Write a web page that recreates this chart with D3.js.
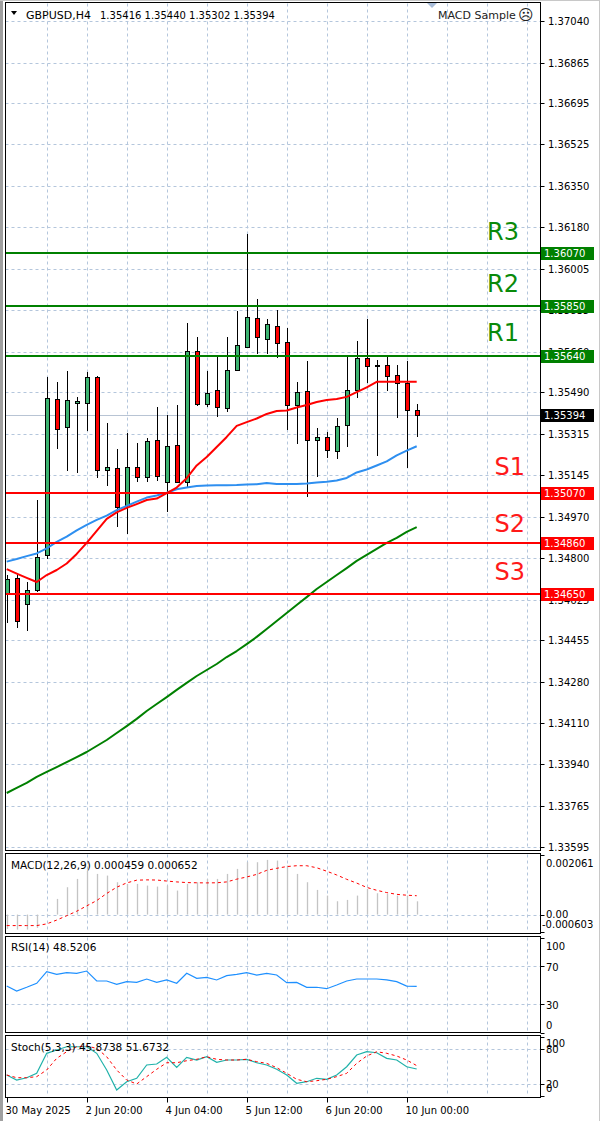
<!DOCTYPE html>
<html><head><meta charset="utf-8">
<script src="https://cdn.jsdelivr.net/npm/d3@7"></script>
<style>body{margin:0;background:#fff}svg{display:block}text{font-family:"DejaVu Sans",sans-serif}</style>
</head><body><svg id="c" width="600" height="1121"></svg>
<script>
// ---------- DATA ----------
const symbolTitle = "GBPUSD,H4";
const ohlcTitle = "1.35416 1.35440 1.35302 1.35394";
const expertName = "MACD Sample";
const opens  = [1.34652,1.34716,1.34606,1.34666,1.34812,1.35462,1.35344,1.35447,1.35444,1.35553,1.35166,1.35176,1.35020,1.35180,1.35138,1.35291,1.35117,1.35270,1.35117,1.35662,1.35441,1.35500,1.35423,1.35583,1.35680,1.35799,1.35712,1.35767,1.35699,1.35437,1.35496,1.35291,1.35305,1.35245,1.35354,1.35500,1.35632,1.35605,1.35604,1.35562,1.35528,1.35416];
const highs  = [1.34728,1.34738,1.34700,1.35041,1.35555,1.35532,1.35580,1.35469,1.35574,1.35559,1.35361,1.35254,1.35319,1.35277,1.35298,1.35428,1.35395,1.35437,1.35778,1.35722,1.35579,1.35639,1.35722,1.35830,1.36150,1.35878,1.35795,1.35833,1.35757,1.35534,1.35622,1.35340,1.35326,1.35382,1.35639,1.35705,1.35795,1.35625,1.35636,1.35604,1.35621,1.35440];
const lows   = [1.34528,1.34507,1.34495,1.34659,1.34794,1.35254,1.35163,1.35152,1.35330,1.35134,1.35101,1.34930,1.34898,1.35117,1.35117,1.35121,1.34992,1.35111,1.35096,1.35435,1.35430,1.35388,1.35409,1.35580,1.35676,1.35649,1.35649,1.35634,1.35333,1.35275,1.35055,1.35138,1.35217,1.35212,1.35263,1.35465,1.35530,1.35226,1.35497,1.35384,1.35173,1.35302];
const closes = [1.34710,1.34536,1.34666,1.34804,1.35468,1.35337,1.35458,1.35455,1.35553,1.35166,1.35177,1.35013,1.35180,1.35138,1.35287,1.35141,1.35266,1.35117,1.35662,1.35441,1.35489,1.35430,1.35583,1.35687,1.35803,1.35720,1.35774,1.35697,1.35437,1.35490,1.35291,1.35303,1.35250,1.35350,1.35500,1.35632,1.35600,1.35603,1.35558,1.35528,1.35416,1.35394];
const maRed   = [1.34753,1.34734,1.34716,1.34699,1.34728,1.34749,1.34776,1.34816,1.34862,1.34912,1.34962,1.34989,1.35008,1.35024,1.35041,1.35047,1.35070,1.35093,1.35132,1.35185,1.35220,1.35262,1.35304,1.35350,1.35366,1.35381,1.35400,1.35412,1.35414,1.35427,1.35437,1.35450,1.35458,1.35462,1.35471,1.35491,1.35511,1.35534,1.35534,1.35534,1.35534,1.35534];
const maBlue  = [1.34784,1.34795,1.34807,1.34818,1.34839,1.34866,1.34888,1.34914,1.34937,1.34958,1.34976,1.34999,1.35016,1.35034,1.35051,1.35060,1.35071,1.35086,1.35093,1.35099,1.35101,1.35102,1.35103,1.35104,1.35106,1.35107,1.35112,1.35108,1.35108,1.35108,1.35110,1.35114,1.35117,1.35122,1.35133,1.35156,1.35168,1.35185,1.35202,1.35227,1.35247,1.35265];
const maGreen = [1.33819,1.33840,1.33861,1.33886,1.33907,1.33927,1.33948,1.33969,1.33990,1.34015,1.34040,1.34069,1.34098,1.34128,1.34161,1.34190,1.34219,1.34249,1.34278,1.34307,1.34332,1.34357,1.34386,1.34411,1.34440,1.34470,1.34503,1.34536,1.34570,1.34603,1.34636,1.34670,1.34699,1.34728,1.34757,1.34787,1.34812,1.34837,1.34862,1.34883,1.34908,1.34928];
const priceTicks = [1.37040,1.36865,1.36695,1.36525,1.36350,1.36180,1.36005,1.35835,1.35660,1.35490,1.35315,1.35145,1.34970,1.34800,1.34625,1.34455,1.34280,1.34110,1.33940,1.33765,1.33595];
const priceMin = 1.33595, priceMax = 1.37040;
const lastPrice = 1.35394;
const levelNames  = ["R3","R2","R1","S1","S2","S3"];
const levelValues = [1.36070,1.35850,1.35640,1.35070,1.34860,1.34650];
const levelTextPrices = [1.36125,1.35909,1.35704,1.35145,1.34909,1.34707];
const macdTitle = "MACD(12,26,9) 0.000459 0.000652";
const macdHist = [-0.000496,-0.000519,-0.000519,-0.000461,0.000023,0.000542,0.000946,0.001234,0.001522,0.001407,0.001349,0.001119,0.001061,0.001061,0.001003,0.000969,0.001003,0.000830,0.001061,0.001119,0.001234,0.001234,0.001407,0.001580,0.001811,0.001811,0.001891,0.001868,0.001695,0.001407,0.001119,0.000853,0.000657,0.000461,0.000507,0.000657,0.000888,0.000738,0.000715,0.000657,0.000657,0.000459];
const macdSignal = [-0.000381,-0.000381,-0.000381,-0.000381,-0.000323,-0.000190,-0.000040,0.000115,0.000300,0.000484,0.000730,0.000946,0.001096,0.001190,0.001200,0.001195,0.001160,0.001130,0.001107,0.001100,0.001096,0.001100,0.001130,0.001225,0.001300,0.001390,0.001530,0.001600,0.001661,0.001690,0.001690,0.001620,0.001500,0.001370,0.001220,0.001090,0.000940,0.000840,0.000760,0.000700,0.000670,0.000652];
const macdTicks = [0.002061, 0.00, -0.000603];
const macdTickLabels = ["0.002061","0.00","-0.000603"];
const rsiTitle = "RSI(14) 48.5206";
const rsiValues = [48.9,43.7,47.6,51.8,64.0,61.2,63.0,62.3,64.7,54.2,54.2,50.7,53.5,52.8,56.3,52.8,55.3,51.8,62.3,57.0,58.1,55.3,59.8,61.2,63.0,60.5,62.3,60.5,52.5,52.8,47.6,47.6,46.1,50.0,54.2,56.3,56.3,56.3,55.3,53.5,48.9,48.5206];
const rsiTicks = [100,70,30,0];
const stochTitle = "Stoch(5,3,3) 45.8738 51.6732";
const stochMain = [35.7,27.2,31.1,38.6,72.6,78.2,83.8,83.8,83.8,72.6,44.2,10.2,24.3,30.1,52.7,54.4,65.8,48.8,65.8,61.2,66.8,57.3,61.2,61.2,62.4,56.6,52.7,45.4,35.7,21.6,24.3,30.1,28.4,35.7,49.8,69.7,75.3,73.6,64.1,61.2,49.8,45.8738];
const stochSignal = [35.7,31.1,31.1,32.9,44.2,64.1,75.3,83.8,85.0,81.0,66.8,44.2,27.2,20.4,32.9,45.4,56.6,56.6,60.0,62.4,66.8,62.4,61.2,61.2,62.4,58.4,55.5,48.2,38.6,28.4,24.3,26.0,28.4,32.9,38.6,55.5,68.0,75.3,72.6,68.0,61.2,51.6732];
const stochTicks = [100,80,20,0];
const timeLabels = ["30 May 2025","2 Jun 20:00","4 Jun 04:00","5 Jun 12:00","6 Jun 20:00","10 Jun 00:00"];
const timeLabelIndex = [0,8,16,24,32,40];

// ---------- LAYOUT ----------
const svg = d3.select("#c");
const PL = 5.5, PR = 540.5;
const bullFill = "#3cb371", bearFill = "#ff0000";
const gridCol = "#b4c6dc";
const x = d3.scaleLinear().domain([0, 41]).range([6.7, 416.7]);
const cx = i => Math.round(x(i));
const yP = d3.scaleLinear().domain([priceMin, priceMax]).range([846.7, 20.7]);
const panels = {
  main: {top: 2.5, bottom: 850.5},
  macd: {top: 853.5, bottom: 933.5},
  rsi: {top: 936.5, bottom: 1032.5},
  stoch: {top: 1035.5, bottom: 1097.5}
};
const yM = d3.scaleLinear().domain([-0.000603, 0.002061]).range([932, 855]);
const yR = d3.scaleLinear().domain([0, 100]).range([1032.5, 937.5]);
const yS = d3.scaleLinear().domain([0, 100]).range([1096, 1037.2]);

// window border
svg.append("rect").attr("x",0).attr("y",0).attr("width",600).attr("height",1121).attr("fill","#fff");
svg.append("rect").attr("x",0).attr("y",0).attr("width",3).attr("height",1121).attr("fill","#a0a0a0");
svg.append("line").attr("x1",0).attr("x2",600).attr("y1",0.5).attr("y2",0.5).attr("stroke","#c8c8c8");
svg.append("line").attr("x1",599.5).attr("x2",599.5).attr("y1",0).attr("y2",1121).attr("stroke","#c8c8c8");

const defs = svg.append("defs");
Object.entries(panels).forEach(([k,p]) => {
  defs.append("clipPath").attr("id","clip-"+k).append("rect")
    .attr("x",PL+0.5).attr("y",p.top+0.5).attr("width",PR-PL-1).attr("height",p.bottom-p.top-1);
});

// vertical grid in all panels
const vgrid = d3.range(4, 54, 4).map(i => cx(i) + 0.5).filter(v => v < PR - 2);
Object.values(panels).forEach(p => {
  svg.append("g").selectAll("line").data(vgrid).join("line")
    .attr("x1",d=>d).attr("x2",d=>d).attr("y1",p.top+1).attr("y2",p.bottom-1)
    .attr("stroke",gridCol).attr("stroke-dasharray","3,3");
});

// ---------- MAIN PANEL ----------
const gMain = svg.append("g").attr("clip-path","url(#clip-main)");
gMain.append("g").selectAll("line").data(priceTicks).join("line")
  .attr("x1",PL).attr("x2",PR).attr("y1",d=>Math.round(yP(d))+0.5).attr("y2",d=>Math.round(yP(d))+0.5)
  .attr("stroke",gridCol).attr("stroke-dasharray","3,3");
// last price line
gMain.append("line").attr("x1",PL).attr("x2",PR)
  .attr("y1",Math.round(yP(lastPrice))+0.5).attr("y2",Math.round(yP(lastPrice))+0.5)
  .attr("stroke","#b8c4d4").attr("stroke-width",1);

// candles
const idx = d3.range(opens.length);
const cg = gMain.append("g");
cg.selectAll("line.w").data(idx).join("line").attr("class","w")
  .attr("x1",i=>cx(i)+0.5).attr("x2",i=>cx(i)+0.5)
  .attr("y1",i=>Math.round(yP(highs[i]))).attr("y2",i=>Math.round(yP(lows[i])))
  .attr("stroke","#000").attr("stroke-width",1);
cg.selectAll("rect").data(idx).join("rect")
  .attr("x",i=>cx(i)-1.5).attr("width",4)
  .attr("y",i=>Math.round(yP(Math.max(opens[i],closes[i])))+0.5)
  .attr("height",i=>Math.max(1, Math.round(yP(Math.min(opens[i],closes[i]))) - Math.round(yP(Math.max(opens[i],closes[i])))))
  .attr("fill",i=>closes[i]>=opens[i]?bullFill:bearFill)
  .attr("stroke","#000").attr("stroke-width",1);

// moving averages
const maLine = d3.line().x((d,i)=>x(i)).y(d=>yP(d));
[[maGreen,"#008000"],[maBlue,"#2e8ff0"],[maRed,"#ff0000"]].forEach(([arr,col]) => {
  gMain.append("path").datum(arr).attr("d",maLine).attr("fill","none")
    .attr("stroke",col).attr("stroke-width",2).attr("stroke-linejoin","round");
});

// levels
levelValues.forEach((v,k) => {
  const col = k < 3 ? "#008000" : "#ff0000";
  const yy = Math.round(yP(v));
  gMain.append("line").attr("x1",PL).attr("x2",PR).attr("y1",yy).attr("y2",yy)
    .attr("stroke",col).attr("stroke-width",2);
  svg.append("text").attr("x", k < 3 ? 519 : 525).attr("y", yP(levelTextPrices[k]))
    .attr("text-anchor","end").attr("font-family","'Liberation Sans',Arial,sans-serif")
    .attr("font-size",24).attr("fill", k < 3 ? "#0a8a0a" : "#ff1a1a").text(levelNames[k]);
});

// header
svg.append("path").attr("d","M11,11 L17,11 L14,15 Z").attr("fill","#000");
svg.append("text").attr("x",26).attr("y",19).attr("font-size",11).attr("fill","#000").text(symbolTitle);
svg.append("text").attr("x",100).attr("y",19).attr("font-size",10).attr("fill","#000").text(ohlcTitle);
svg.append("path").attr("d","M427,3 L437,3 L432,8 Z").attr("fill","#a8bcd8");
svg.append("text").attr("x",438).attr("y",19).attr("font-size",11).attr("fill","#222").text(expertName);
svg.append("text").attr("x",518).attr("y",20).attr("font-size",15).attr("fill","#222").text("\u2639");

// price axis
const axG = svg.append("g");
priceTicks.forEach(t => {
  const yy = Math.round(yP(t))+0.5;
  axG.append("line").attr("x1",PR).attr("x2",PR+4).attr("y1",yy).attr("y2",yy).attr("stroke","#000");
  axG.append("text").attr("x",548).attr("y",yy).attr("dy","0.36em").attr("font-size",10).attr("fill","#000").text(t.toFixed(5));
});
levelValues.forEach((v,k) => {
  const yy = Math.round(yP(v));
  axG.append("rect").attr("x",541).attr("y",yy-6).attr("width",53).attr("height",13)
    .attr("fill", k<3 ? "#008000" : "#ff0000");
  axG.append("text").attr("x",544).attr("y",yy+0.5).attr("dy","0.36em").attr("font-size",10)
    .attr("fill","#fff").text(v.toFixed(5));
});
{
  const yy = Math.round(yP(lastPrice));
  axG.append("rect").attr("x",541).attr("y",yy-6).attr("width",53).attr("height",13).attr("fill","#000");
  axG.append("text").attr("x",544).attr("y",yy+0.5).attr("dy","0.36em").attr("font-size",10)
    .attr("fill","#fff").text(lastPrice.toFixed(5));
}

// ---------- MACD ----------
const gM = svg.append("g").attr("clip-path","url(#clip-macd)");
gM.append("line").attr("x1",PL).attr("x2",PR).attr("y1",Math.round(yM(0))+0.5).attr("y2",Math.round(yM(0))+0.5)
  .attr("stroke",gridCol).attr("stroke-dasharray","3,3");
gM.selectAll("line.h").data(idx).join("line").attr("class","h")
  .attr("x1",i=>cx(i)+0.5).attr("x2",i=>cx(i)+0.5)
  .attr("y1",yM(0)).attr("y2",i=>yM(macdHist[i]))
  .attr("stroke","#c4c4c4").attr("stroke-width",1.3);
gM.append("path").datum(macdSignal).attr("d",d3.line().x((d,i)=>x(i)).y(d=>yM(d)))
  .attr("fill","none").attr("stroke","#ff0000").attr("stroke-width",1).attr("stroke-dasharray","3,3");
svg.append("text").attr("x",11).attr("y",869).attr("font-size",10.5).attr("fill","#000").text(macdTitle);
macdTicks.forEach((t,k) => {
  const yy = Math.round(yM(t))+0.5;
  const off = k===0 ? 8 : (k===macdTicks.length-1 ? -8 : -1);
  svg.append("line").attr("x1",PR).attr("x2",PR+4).attr("y1",yy).attr("y2",yy).attr("stroke","#000");
  svg.append("text").attr("x", t<0 ? 542 : 546).attr("y",yy+off).attr("dy","0.36em").attr("font-size",10).attr("fill","#000").text(macdTickLabels[k]);
});

// ---------- RSI ----------
const gR = svg.append("g").attr("clip-path","url(#clip-rsi)");
[70,30].forEach(v => gR.append("line").attr("x1",PL).attr("x2",PR)
  .attr("y1",Math.round(yR(v))+0.5).attr("y2",Math.round(yR(v))+0.5)
  .attr("stroke",gridCol).attr("stroke-dasharray","3,3"));
gR.append("path").datum(rsiValues).attr("d",d3.line().x((d,i)=>x(i)).y(d=>yR(d)))
  .attr("fill","none").attr("stroke","#1e90ff").attr("stroke-width",1.2);
svg.append("text").attr("x",11).attr("y",951).attr("font-size",10.5).attr("fill","#000").text(rsiTitle);
rsiTicks.forEach((t,k) => {
  const yy = Math.round(yR(t))+0.5;
  const off = k===0 ? 8 : (k===rsiTicks.length-1 ? -8.5 : 1);
  svg.append("line").attr("x1",PR).attr("x2",PR+4).attr("y1",yy).attr("y2",yy).attr("stroke","#000");
  svg.append("text").attr("x",546).attr("y",yy+off).attr("dy","0.36em").attr("font-size",10).attr("fill","#000").text(t);
});

// ---------- STOCH ----------
const gS = svg.append("g").attr("clip-path","url(#clip-stoch)");
[80,20].forEach(v => gS.append("line").attr("x1",PL).attr("x2",PR)
  .attr("y1",Math.round(yS(v))+0.5).attr("y2",Math.round(yS(v))+0.5)
  .attr("stroke",gridCol).attr("stroke-dasharray","3,3"));
gS.append("path").datum(stochMain).attr("d",d3.line().x((d,i)=>x(i)).y(d=>yS(d)))
  .attr("fill","none").attr("stroke","#20b2aa").attr("stroke-width",1.2);
gS.append("path").datum(stochSignal).attr("d",d3.line().x((d,i)=>x(i)).y(d=>yS(d)))
  .attr("fill","none").attr("stroke","#ff0000").attr("stroke-width",1).attr("stroke-dasharray","3,3");
svg.append("text").attr("x",11).attr("y",1051).attr("font-size",10.5).attr("fill","#000").text(stochTitle);
stochTicks.forEach((t,k) => {
  const yy = Math.round(yS(t))+0.5;
  const off = k===0 ? 6 : (k===stochTicks.length-1 ? -8.5 : -0.5);
  svg.append("line").attr("x1",PR).attr("x2",PR+4).attr("y1",yy).attr("y2",yy).attr("stroke","#000");
  svg.append("text").attr("x",546).attr("y",yy+off).attr("dy","0.36em").attr("font-size",10).attr("fill","#000").text(t);
});

// ---------- FRAMES ----------
Object.values(panels).forEach(p => {
  svg.append("rect").attr("x",PL).attr("y",p.top).attr("width",PR-PL).attr("height",p.bottom-p.top)
    .attr("fill","none").attr("stroke","#000").attr("stroke-width",1);
});

// ---------- TIME AXIS ----------
timeLabelIndex.forEach((i,k) => {
  const xx = cx(i)+0.5;
  svg.append("line").attr("x1",xx).attr("x2",xx).attr("y1",panels.stoch.bottom).attr("y2",panels.stoch.bottom+5).attr("stroke","#000");
  svg.append("text").attr("x",xx-2).attr("y",1114).attr("font-size",10).attr("fill","#000").text(timeLabels[k]);
});
</script>
</body></html>
